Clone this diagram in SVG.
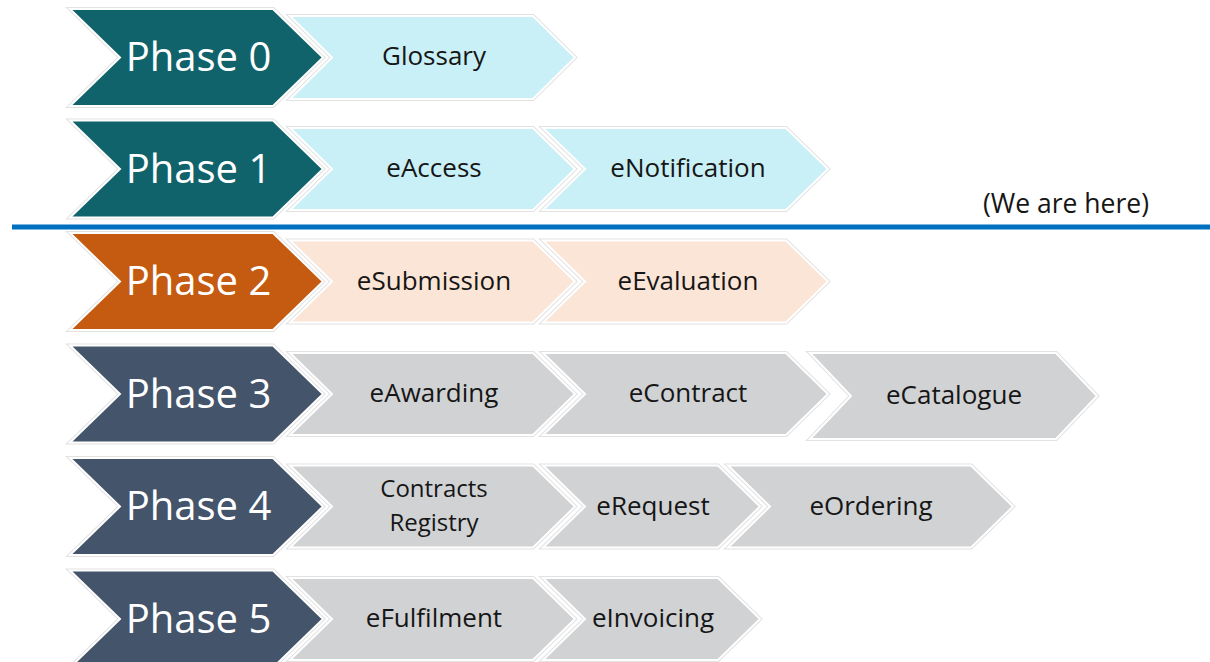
<svg xmlns="http://www.w3.org/2000/svg" width="1210" height="662" viewBox="0 0 1210 662">
<style>
.under{fill:none;stroke:#e2e2e2;stroke-width:4;stroke-linejoin:miter}
.sh{stroke:#ffffff;stroke-width:2;stroke-linejoin:miter}
.teal{fill:#11636b}
.orange{fill:#c55a11}
.slate{fill:#44546a}
.cyan{fill:#c9f0f6}
.peach{fill:#fbe5d6}
.gray{fill:#d1d2d4}
.ph{font-family:"Open Sans","Liberation Sans",sans-serif;font-size:40px;fill:#ffffff;text-anchor:middle}
.lb{font-family:"Open Sans","Liberation Sans",sans-serif;font-size:26px;fill:#161616;text-anchor:middle}
.lb2{font-family:"Open Sans","Liberation Sans",sans-serif;font-size:24px;fill:#161616;text-anchor:middle}
</style>
<rect width="1210" height="662" fill="#ffffff"/>
<g id="connectors">
<line x1="12" y1="227" x2="1210" y2="227" stroke="#0070c0" stroke-width="5"/>
</g>
<text class="lb" x="1066" y="213" style="font-size:26.5px">(We are here)</text>

<!-- Row 0 -->
<g id="glossary">
<polygon class="under" points="290,16 533,16 575,57.5 533,99 290,99 332,57.5"/>
<polygon class="sh cyan" points="290,16 533,16 575,57.5 533,99 290,99 332,57.5"/>
<text class="lb" x="434" y="65">Glossary</text>
</g>
<g id="phase0">
<polygon class="under" points="70,9 273,9 323,57.5 273,106 70,106 120,57.5"/>
<polygon class="sh teal" points="70,9 273,9 323,57.5 273,106 70,106 120,57.5"/>
<text class="ph" x="198.5" y="71">Phase 0</text>
</g>

<!-- Row 1 -->
<g id="eaccess">
<polygon class="under" points="290,128 533,128 575,169 533,210 290,210 332,169"/>
<polygon class="sh cyan" points="290,128 533,128 575,169 533,210 290,210 332,169"/>
<text class="lb" x="434" y="177">eAccess</text>
</g>
<g id="enotification">
<polygon class="under" points="543,128 786,128 828,169 786,210 543,210 585,169"/>
<polygon class="sh cyan" points="543,128 786,128 828,169 786,210 543,210 585,169"/>
<text class="lb" x="688" y="177">eNotification</text>
</g>
<g id="phase1">
<polygon class="under" points="70,120.5 273,120.5 323,169 273,217.5 70,217.5 120,169"/>
<polygon class="sh teal" points="70,120.5 273,120.5 323,169 273,217.5 70,217.5 120,169"/>
<text class="ph" x="198.5" y="182.5">Phase 1</text>
</g>

<!-- Row 2 -->
<g id="esubmission">
<polygon class="under" points="290,240.5 533,240.5 575,281.5 533,322.5 290,322.5 332,281.5"/>
<polygon class="sh peach" points="290,240.5 533,240.5 575,281.5 533,322.5 290,322.5 332,281.5"/>
<text class="lb" x="434" y="289.5">eSubmission</text>
</g>
<g id="eevaluation">
<polygon class="under" points="543,240.5 786,240.5 828,281.5 786,322.5 543,322.5 585,281.5"/>
<polygon class="sh peach" points="543,240.5 786,240.5 828,281.5 786,322.5 543,322.5 585,281.5"/>
<text class="lb" x="688" y="289.5">eEvaluation</text>
</g>
<g id="phase2">
<polygon class="under" points="70,233 273,233 323,281.5 273,330 70,330 120,281.5"/>
<polygon class="sh orange" points="70,233 273,233 323,281.5 273,330 70,330 120,281.5"/>
<text class="ph" x="198.5" y="295">Phase 2</text>
</g>

<!-- Row 3 -->
<g id="eawarding">
<polygon class="under" points="290,353 533,353 575,394 533,435 290,435 332,394"/>
<polygon class="sh gray" points="290,353 533,353 575,394 533,435 290,435 332,394"/>
<text class="lb" x="434" y="402">eAwarding</text>
</g>
<g id="econtract">
<polygon class="under" points="543,353 786,353 828,394 786,435 543,435 585,394"/>
<polygon class="sh gray" points="543,353 786,353 828,394 786,435 543,435 585,394"/>
<text class="lb" x="688" y="402">eContract</text>
</g>
<g id="ecatalogue">
<polygon class="under" points="810,353 1056,353 1097,396 1056,439 810,439 851,396"/>
<polygon class="sh gray" points="810,353 1056,353 1097,396 1056,439 810,439 851,396"/>
<text class="lb" x="954" y="404">eCatalogue</text>
</g>
<g id="phase3">
<polygon class="under" points="70,345.5 273,345.5 323,394 273,442.5 70,442.5 120,394"/>
<polygon class="sh slate" points="70,345.5 273,345.5 323,394 273,442.5 70,442.5 120,394"/>
<text class="ph" x="198.5" y="407.5">Phase 3</text>
</g>

<!-- Row 4 -->
<g id="contracts-registry">
<polygon class="under" points="290,465.5 533,465.5 575,506.5 533,547.5 290,547.5 332,506.5"/>
<polygon class="sh gray" points="290,465.5 533,465.5 575,506.5 533,547.5 290,547.5 332,506.5"/>
<text class="lb2" x="434" y="497">Contracts</text>
<text class="lb2" x="434" y="530.5">Registry</text>
</g>
<g id="erequest">
<polygon class="under" points="543,465.5 718,465.5 760,506.5 718,547.5 543,547.5 585,506.5"/>
<polygon class="sh gray" points="543,465.5 718,465.5 760,506.5 718,547.5 543,547.5 585,506.5"/>
<text class="lb" x="653" y="514.5">eRequest</text>
</g>
<g id="eordering">
<polygon class="under" points="728,465.5 971,465.5 1013,506.5 971,547.5 728,547.5 770,506.5"/>
<polygon class="sh gray" points="728,465.5 971,465.5 1013,506.5 971,547.5 728,547.5 770,506.5"/>
<text class="lb" x="871" y="514.5">eOrdering</text>
</g>
<g id="phase4">
<polygon class="under" points="70,458 273,458 323,506.5 273,555 70,555 120,506.5"/>
<polygon class="sh slate" points="70,458 273,458 323,506.5 273,555 70,555 120,506.5"/>
<text class="ph" x="198.5" y="520">Phase 4</text>
</g>

<!-- Row 5 -->
<g id="efulfilment">
<polygon class="under" points="290,578 533,578 575,619 533,660 290,660 332,619"/>
<polygon class="sh gray" points="290,578 533,578 575,619 533,660 290,660 332,619"/>
<text class="lb" x="434" y="627">eFulfilment</text>
</g>
<g id="einvoicing">
<polygon class="under" points="543,578 718,578 760,619 718,660 543,660 585,619"/>
<polygon class="sh gray" points="543,578 718,578 760,619 718,660 543,660 585,619"/>
<text class="lb" x="653" y="627">eInvoicing</text>
</g>
<g id="phase5">
<polygon class="under" points="70,570.5 273,570.5 323,619 273,667.5 70,667.5 120,619"/>
<polygon class="sh slate" points="70,570.5 273,570.5 323,619 273,667.5 70,667.5 120,619"/>
<text class="ph" x="198.5" y="632.5">Phase 5</text>
</g>
</svg>
